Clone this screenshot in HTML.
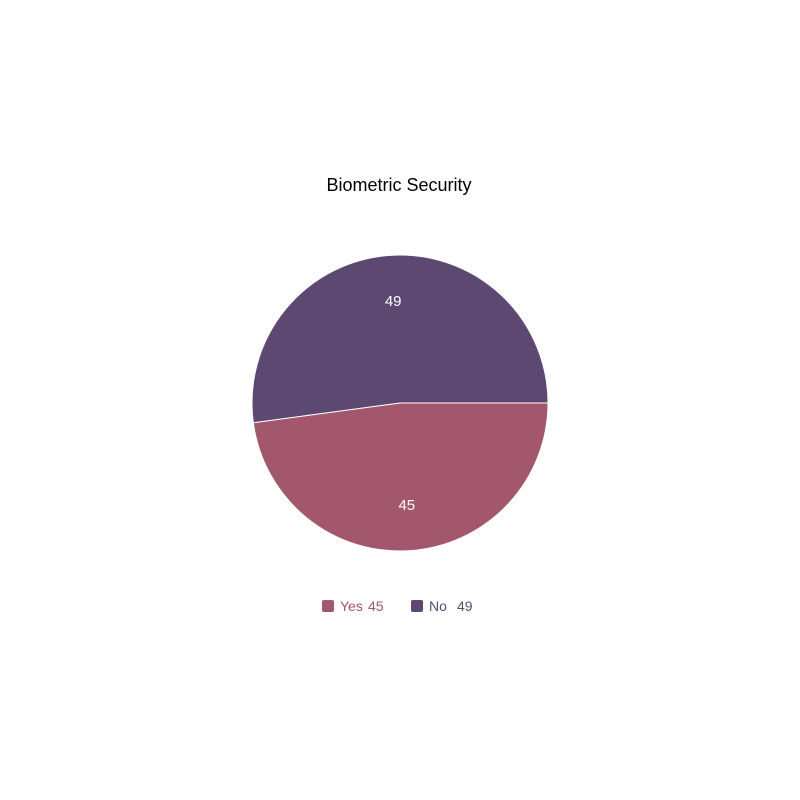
<!DOCTYPE html>
<html><head><meta charset="utf-8"><style>
html,body{margin:0;padding:0;background:#fff;width:800px;height:800px;overflow:hidden;font-family:"Liberation Sans",sans-serif}
</style></head><body>
<svg id="chart" width="800" height="800">
<text x="399" y="191" text-anchor="middle" font-size="18" fill="#000">Biometric Security</text>
<g id="slices"></g>
<g id="legend"></g>
</svg>
<script>
const categories = ["Yes", "No"];
const values = [45, 49];
const colors = ["#a3576c", "#5c4870"];
const cx = 400, cy = 403, r = 148;
const total = values.reduce((a, b) => a + b, 0);
const ns = "http://www.w3.org/2000/svg";
const sg = document.getElementById("slices");
let a0 = 0;
values.forEach((v, i) => {
  const a1 = a0 + v / total * 2 * Math.PI;
  const x0 = cx + r * Math.cos(a0), y0 = cy + r * Math.sin(a0);
  const x1 = cx + r * Math.cos(a1), y1 = cy + r * Math.sin(a1);
  const p = document.createElementNS(ns, "path");
  p.setAttribute("d", `M${cx},${cy} L${x0},${y0} A${r},${r} 0 ${a1 - a0 > Math.PI ? 1 : 0} 1 ${x1},${y1} Z`);
  p.setAttribute("fill", colors[i]);
  p.setAttribute("stroke", "#fff");
  p.setAttribute("stroke-width", "1");
  
  
  sg.appendChild(p);
  const am = (a0 + a1) / 2;
  const t = document.createElementNS(ns, "text");
  t.setAttribute("x", cx + 102 * Math.cos(am));
  t.setAttribute("y", cy + 102 * Math.sin(am) + 5);
  t.setAttribute("text-anchor", "middle");
  t.setAttribute("font-size", "15");
  t.setAttribute("fill", "#fff");
  t.textContent = values[i];
  
  
  sg.appendChild(t);
  a0 = a1;
});
const lg = document.getElementById("legend");
const lx = [322, 411];
categories.forEach((c, i) => {
  const g = document.createElementNS(ns, "g");
  
  
  const rc = document.createElementNS(ns, "rect");
  rc.setAttribute("x", lx[i]); rc.setAttribute("y", 600);
  rc.setAttribute("width", 12); rc.setAttribute("height", 12);
  rc.setAttribute("rx", 2); rc.setAttribute("fill", colors[i]);
  g.appendChild(rc);
  const t = document.createElementNS(ns, "text");
  t.setAttribute("x", lx[i] + 18); t.setAttribute("y", 611);
  t.setAttribute("font-size", "14"); t.setAttribute("fill", colors[i]);
  t.textContent = c;
  g.appendChild(t);
  const tv = document.createElementNS(ns, "text");
  tv.setAttribute("x", lx[i] + 46); tv.setAttribute("y", 611);
  tv.setAttribute("font-size", "14"); tv.setAttribute("fill", colors[i]);
  tv.textContent = values[i];
  g.appendChild(tv);
  lg.appendChild(g);
});
</script>
</body></html>
